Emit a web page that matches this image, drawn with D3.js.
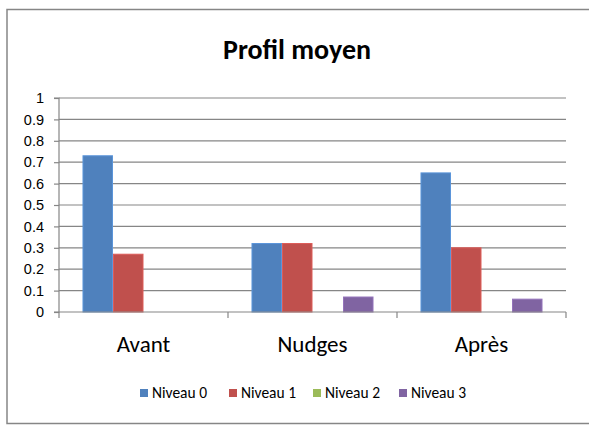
<!DOCTYPE html>
<html>
<head>
<meta charset="utf-8">
<script src="https://cdn.jsdelivr.net/npm/d3@7/dist/d3.min.js"></script>
<style>
  html, body { margin: 0; padding: 0; background: #fff; }
  svg { display: block; font-family: Calibri, Carlito, Lato, "Open Sans", sans-serif; }
</style>
</head>
<body>
<svg id="chart" width="589" height="426"></svg>
<script>
// Categories, series names and values
const categories = ["Avant", "Nudges", "Après"];
const seriesNames = ["Niveau 0", "Niveau 1", "Niveau 2", "Niveau 3"];
const niveau0 = [0.73, 0.32, 0.65];
const niveau1 = [0.27, 0.32, 0.30];
const niveau2 = [0, 0, 0];
const niveau3 = [0, 0.07, 0.06];
const yTicks = [0, 0.1, 0.2, 0.3, 0.4, 0.5, 0.6, 0.7, 0.8, 0.9, 1];
const colors = ["#4F81BD", "#C0504D", "#9BBB59", "#8064A2"];

const seriesValues = [niveau0, niveau1, niveau2, niveau3];
const rows = categories.map((c, i) => ({
  category: c,
  values: seriesNames.map((s, k) => ({ key: s, value: seriesValues[k][i], color: colors[k] }))
}));

const svg = d3.select("#chart");

// Chart frame
svg.append("rect")
  .attr("x", 7).attr("y", 9.5)
  .attr("width", 600).attr("height", 414)
  .attr("fill", "#fff")
  .attr("stroke", "#868686")
  .attr("stroke-width", 1.5);

const plot = { left: 59, right: 566, top: 98, bottom: 312 };

const x0 = d3.scaleBand().domain(categories).range([plot.left, plot.right]).padding(0);
const groupInset = x0.bandwidth() * 0.139;
const x1 = d3.scaleBand().domain(seriesNames)
  .range([groupInset, x0.bandwidth() - groupInset]).padding(0);
const y = d3.scaleLinear().domain([0, 1]).range([plot.bottom, plot.top]);

// Horizontal gridlines
svg.append("g").selectAll("line")
  .data(yTicks.filter(t => t > 0))
  .join("line")
  .attr("x1", plot.left).attr("x2", plot.right)
  .attr("y1", d => y(d)).attr("y2", d => y(d))
  .attr("stroke", "#868686").attr("stroke-width", 1.2);

// Bars
const groups = svg.append("g").selectAll("g")
  .data(rows)
  .join("g")
  .attr("transform", d => `translate(${x0(d.category)},0)`);

groups.selectAll("rect")
  .data(d => d.values.filter(v => v.value > 0))
  .join("rect")
  .attr("x", d => x1(d.key) + 0.5)
  .attr("width", x1.bandwidth() - 1)
  .attr("y", d => y(d.value))
  .attr("height", d => y(0) - y(d.value))
  .attr("fill", d => d.color)
  .attr("stroke", d => d3.color(d.color).brighter(0.4))
  .attr("stroke-width", 1);

// Y axis
const yAxis = d3.axisLeft(y)
  .tickValues(yTicks)
  .tickFormat(d => d3.format("~g")(d))
  .tickSize(5)
  .tickPadding(10);

const gy = svg.append("g")
  .attr("transform", `translate(${plot.left},0)`)
  .call(yAxis);
gy.select(".domain").attr("stroke", "#868686").attr("stroke-width", 1.2)
  .attr("d", `M-5,${plot.top}H0V${plot.bottom}H-5`);
gy.selectAll(".tick line").attr("stroke", "#868686").attr("stroke-width", 1.2);
gy.selectAll(".tick text")
  .attr("fill", "#000")
  .style("font-size", "14.5px");

// X axis with tick marks at category boundaries
const gx = svg.append("g");
gx.append("line")
  .attr("x1", plot.left).attr("x2", plot.right)
  .attr("y1", plot.bottom).attr("y2", plot.bottom)
  .attr("stroke", "#868686").attr("stroke-width", 1.2);
const boundaries = categories.map(c => x0(c)).concat([x0(categories[categories.length - 1]) + x0.bandwidth()]);
gx.selectAll("line.tick")
  .data(boundaries)
  .join("line")
  .attr("class", "tick")
  .attr("x1", d => d).attr("x2", d => d)
  .attr("y1", plot.bottom).attr("y2", plot.bottom + 6)
  .attr("stroke", "#868686").attr("stroke-width", 1.2);
gx.selectAll("text")
  .data(categories)
  .join("text")
  .attr("x", d => x0(d) + x0.bandwidth() / 2)
  .attr("y", 352)
  .attr("text-anchor", "middle")
  .style("font-size", "23px")
  .attr("fill", "#000")
  .text(d => d);

// Title
svg.append("text")
  .attr("x", 297).attr("y", 59)
  .attr("text-anchor", "middle")
  .style("font-size", "28px")
  .style("font-weight", "bold")
  .attr("fill", "#000")
  .text("Profil moyen");

// Legend
const legendX = [140, 229, 313, 399];
const legend = svg.append("g").selectAll("g")
  .data(seriesNames)
  .join("g")
  .attr("transform", (d, i) => `translate(${legendX[i]},393)`);
legend.append("rect")
  .attr("x", 0).attr("y", -4)
  .attr("width", 8).attr("height", 8)
  .attr("fill", (d, i) => colors[i]);
legend.append("text")
  .attr("x", 12).attr("y", 5)
  .style("font-size", "15.5px")
  .attr("fill", "#000")
  .text(d => d);
</script>
</body>
</html>
